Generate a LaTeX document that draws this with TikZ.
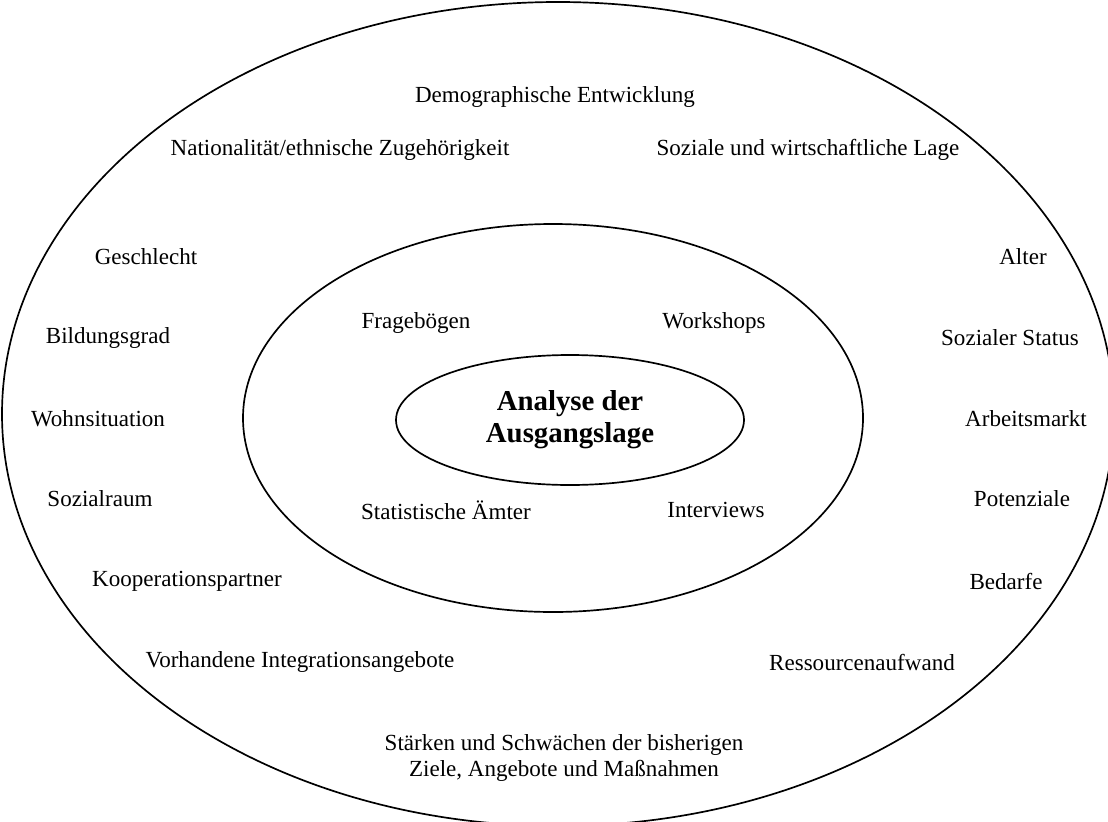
\documentclass[tikz,border=0pt]{standalone}
\usepackage{fontspec}
\setmainfont{Liberation Serif}
\tikzset{
  factor/.style={font=\fontsize{16.4}{18.5}\selectfont, inner sep=0pt, align=center},
  title/.style={font=\fontsize{20.5}{22.7}\selectfont\bfseries, inner sep=0pt, align=center},
  ring/.style={line width=1.2pt}
}
\begin{document}
\begin{tikzpicture}[x=0.25mm,y=-0.25mm]
  \useasboundingbox (0,0) rectangle (1108,821);
  \clip (0,0) rectangle (1108,821);
  % rings
  \draw[ring] (558,414) ellipse (556 and 412);
  \draw[ring] (553,418) ellipse (310 and 194);
  \draw[ring] (570,420) ellipse (174 and 65);
  % centre
  \node[title] (analyse) at (570,420) {Analyse der\\Ausgangslage};
  % methods
  \node[factor] (frage) at (416,323) {Fragebögen};
  \node[factor] (work) at (714,323) {Workshops};
  \node[factor] (stat) at (446,510) {Statistische Ämter};
  \node[factor] (inter) at (716,510) {Interviews};
  % factors, outer ring
  \node[factor] (demo) at (555,97) {Demographische Entwicklung};
  \node[factor] (nat) at (340,150) {Nationalität/ethnische Zugehörigkeit};
  \node[factor] (lage) at (808,150) {Soziale und wirtschaftliche Lage};
  \node[factor] (geschl) at (146,257) {Geschlecht};
  \node[factor] (alter) at (1023,257) {Alter};
  \node[factor] (bildung) at (108,338) {Bildungsgrad};
  \node[factor] (status) at (1010,338) {Sozialer Status};
  \node[factor] (wohn) at (98,419) {Wohnsituation};
  \node[factor] (arbeit) at (1026,419) {Arbeitsmarkt};
  \node[factor] (raum) at (100,499) {Sozialraum};
  \node[factor] (pot) at (1022,499) {Potenziale};
  \node[factor] (koop) at (187,581) {Kooperationspartner};
  \node[factor] (bedarf) at (1006,581) {Bedarfe};
  \node[factor] (angebot) at (300,662) {Vorhandene Integrationsangebote};
  \node[factor] (ress) at (862,662) {Ressourcenaufwand};
  \node[factor] (staerken) at (564,758) {Stärken und Schwächen der bisherigen\\Ziele, Angebote und Maßnahmen};
\end{tikzpicture}
\end{document}
